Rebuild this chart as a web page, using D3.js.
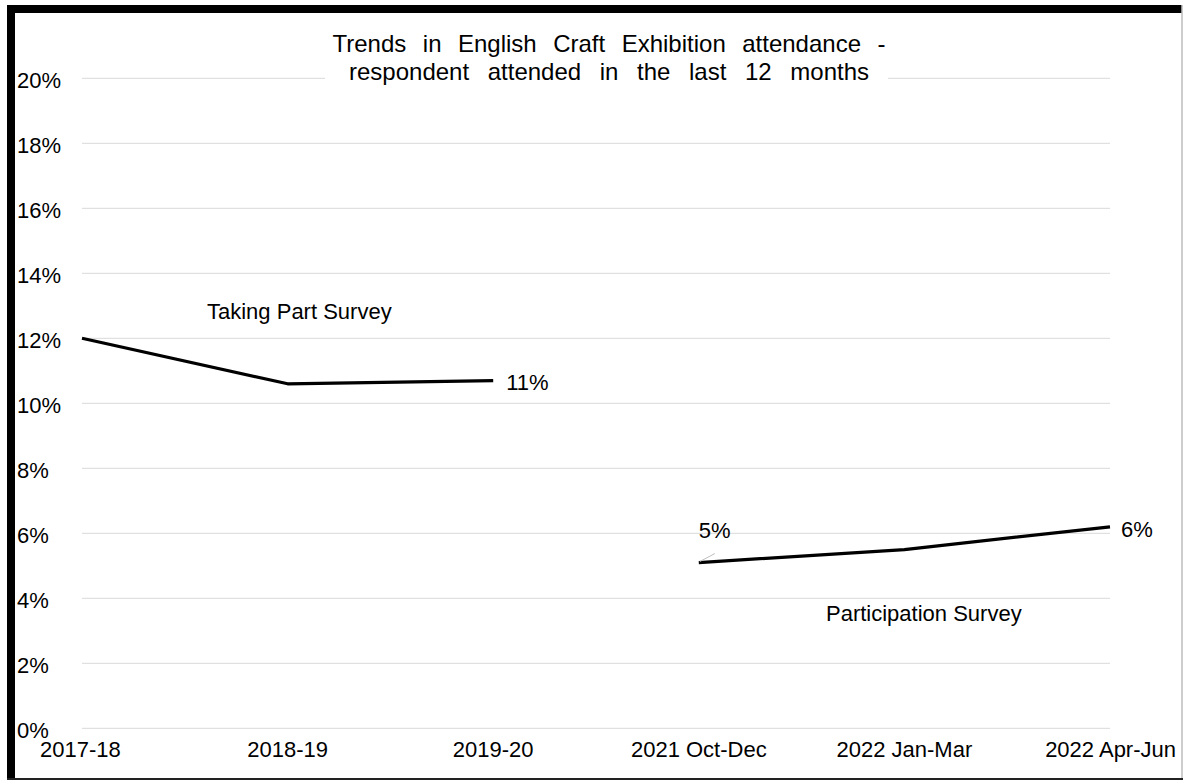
<!DOCTYPE html>
<html>
<head>
<meta charset="utf-8">
<script src="https://cdn.jsdelivr.net/npm/d3@7"></script>
<style>
  body { margin: 0; background: #fff; }
  svg text { font-family: "Liberation Sans", Arial, sans-serif; fill: #000; }
  .lbl { font-size: 22px; }
  .ttl { font-size: 24px; }
</style>
</head>
<body>
<svg id="chart" width="1186" height="782"></svg>
<script>
// chart data
var categories = ['2017-18', '2018-19', '2019-20', '2021 Oct-Dec', '2022 Jan-Mar', '2022 Apr-Jun'];
var takingPart = [12.0, 10.6, 10.7, null, null, null];
var participation = [null, null, null, 5.1, 5.5, 6.2];
var yTicks = [0, 2, 4, 6, 8, 10, 12, 14, 16, 18, 20];
var titleLines = ['Trends in English Craft Exhibition attendance -', 'respondent attended in the last 12 months'];
var titleWidths = [553, 520]; // how wide each title line is spread in the original

function main() {
    var svg = d3.select('#chart');

    var x = d3.scalePoint().domain(categories).range([82, 1110]);
    var y = d3.scaleLinear().domain([0, 20]).range([728.3, 78.3]);

    // frame - heavy on left/top, thin right/bottom
    svg.append('rect').attr('x', 0).attr('y', 0).attr('width', 1186).attr('height', 782).attr('fill', '#fff');
    svg.append('rect').attr('x', 7).attr('y', 5).attr('width', 8).attr('height', 775).attr('fill', '#000');
    svg.append('rect').attr('x', 7).attr('y', 5).attr('width', 1175).attr('height', 8).attr('fill', '#000');
    svg.append('line').attr('x1', 1182).attr('x2', 1182).attr('y1', 5).attr('y2', 780)
        .attr('stroke', '#bdbdbd').attr('stroke-width', 1.5);
    svg.append('line').attr('x1', 7).attr('x2', 1183).attr('y1', 779).attr('y2', 779)
        .attr('stroke', '#222').attr('stroke-width', 2);

    // gridlines
    svg.append('g').selectAll('line').data(yTicks).enter().append('line')
        .attr('x1', x(categories[0])).attr('x2', x(categories[categories.length - 1]))
        .attr('y1', function(d) { return y(d); }).attr('y2', function(d) { return y(d); })
        .attr('stroke', '#d9d9d9').attr('stroke-width', 1);

    // y labels
    svg.append('g').selectAll('text').data(yTicks).enter().append('text')
        .attr('class', 'lbl')
        .attr('x', 17).attr('y', function(d) { return y(d) + 10; })
        .text(function(d) { return d + '%'; });

    // x labels
    svg.append('g').selectAll('text').data(categories).enter().append('text')
        .attr('class', 'lbl')
        .attr('x', function(d, i) {
            if (i === 0) return x(d) - 42;
            if (i === categories.length - 1) return x(d) + 66;
            return x(d);
        })
        .attr('y', 757)
        .attr('text-anchor', function(d, i) {
            if (i === 0) return 'start';
            if (i === categories.length - 1) return 'end';
            return 'middle';
        })
        .text(function(d) { return d; });

    // lines
    var line = d3.line()
        .defined(function(d) { return d != null; })
        .x(function(d, i) { return x(categories[i]); })
        .y(function(d) { return y(d); });

    [takingPart, participation].forEach(function(series) {
        svg.append('path').datum(series)
            .attr('d', line)
            .attr('fill', 'none')
            .attr('stroke', '#000')
            .attr('stroke-width', 3.2)
            .attr('stroke-linejoin', 'round');
    });

    // leader line for the 5% label
    svg.append('line')
        .attr('x1', x(categories[3]) + 1).attr('y1', y(participation[3]) - 1)
        .attr('x2', x(categories[3]) + 16).attr('y2', y(participation[3]) - 9)
        .attr('stroke', '#bfbfbf').attr('stroke-width', 1);

    // data labels
    var ann = svg.append('g');
    ann.append('text').attr('class', 'lbl').attr('x', x(categories[2]) + 13).attr('y', y(takingPart[2]) + 9).text('11%');
    ann.append('text').attr('class', 'lbl').attr('x', x(categories[3])).attr('y', y(participation[3]) - 25).text('5%');
    ann.append('text').attr('class', 'lbl').attr('x', x(categories[5]) + 11).attr('y', y(participation[5]) + 10).text('6%');
    ann.append('text').attr('class', 'lbl').attr('x', 207).attr('y', 319).text('Taking Part Survey');
    ann.append('text').attr('class', 'lbl').attr('x', 826).attr('y', 621).text('Participation Survey');

    // title with white box over the top gridline
    svg.append('rect').attr('x', 325).attr('y', 22).attr('width', 563).attr('height', 68).attr('fill', '#fff');
    svg.append('g').selectAll('text').data(titleLines).enter().append('text')
        .attr('class', 'ttl')
        .attr('x', 609).attr('y', function(d, i) { return 52 + i * 28; })
        .attr('text-anchor', 'middle')
        .text(function(d) { return d; })
        .each(function(d, i) {
            // spread the words out like the justified original
            var gaps = d.split(' ').length - 1;
            var extra = (titleWidths[i] - this.getComputedTextLength()) / gaps;
            d3.select(this).style('word-spacing', Math.max(0, extra) + 'px');
        });
}

main();
</script>
</body>
</html>
